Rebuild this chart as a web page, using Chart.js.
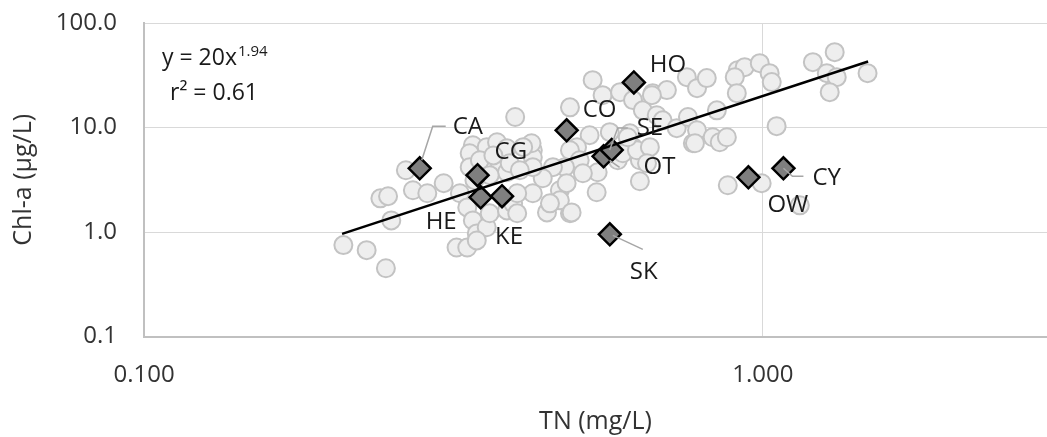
<!DOCTYPE html>
<html>
<head>
<meta charset="utf-8">
<script src="https://cdn.jsdelivr.net/npm/chart.js@4.4.1/dist/chart.umd.min.js"></script>
<style>
  html, body { margin: 0; padding: 0; background: #fff; }
  #wrap { width: 1047px; height: 437px; }
</style>
</head>
<body>
<div id="wrap"><canvas id="chart" width="1047" height="437"></canvas></div>
<script>
const FONT = "'Open Sans', sans-serif";

// all lakes: total nitrogen (mg/L) and chlorophyll-a (µg/L)
const lakeTN = [
  0.210, 0.229, 0.246, 0.241, 0.248, 0.251, 0.265, 0.272, 0.287, 0.305,
  0.340, 0.336, 0.358, 0.372, 0.336, 0.349, 0.376, 0.386, 0.324, 0.333,
  0.340, 0.345, 0.358, 0.362, 0.386, 0.395, 0.320, 0.333, 0.345, 0.398,
  0.401, 0.448, 0.488, 0.539, 0.470, 0.425, 0.401, 0.633, 0.386, 0.425,
  0.425, 0.531, 0.488, 0.551, 0.588, 0.617, 0.640, 0.664, 0.700, 0.754,
  0.783, 0.812, 0.674, 0.689, 0.726, 0.757, 0.771, 0.617, 0.610, 0.566,
  0.525, 0.501, 0.488, 0.506, 0.479, 0.458, 0.441, 0.425, 0.423, 0.410,
  0.482, 0.470, 0.453, 0.491, 0.541, 0.583, 0.594, 0.633, 0.626, 0.657,
  0.390, 0.405, 0.512, 0.605, 0.650, 0.911, 0.935, 0.989, 0.901, 1.026,
  1.034, 0.908, 1.205, 1.307, 1.269, 1.317, 1.283, 1.477, 0.843, 1.053,
  0.783, 0.777, 0.830, 0.852, 0.875, 0.878, 0.996, 1.148, 0.662, 0.367,
  0.362, 0.342
];
const lakeChl = [
  0.75, 0.67, 0.45, 2.10, 2.20, 1.29, 3.90, 2.51, 2.35, 2.93,
  6.77, 5.67, 6.48, 7.23, 4.17, 4.86, 4.17, 3.73, 2.35, 1.72,
  1.29, 0.97, 1.11, 1.51, 1.61, 1.88, 0.71, 0.71, 0.83, 12.6,
  1.51, 1.54, 1.51, 2.40, 2.51, 2.35, 2.35, 3.06, 6.33, 6.06,
  5.19, 28.4, 15.6, 20.4, 21.8, 18.3, 14.6, 21.3, 22.8, 30.3,
  23.8, 29.7, 13.1, 11.7, 9.85, 12.6, 7.07, 6.48, 8.82, 9.02,
  8.44, 6.48, 6.06, 4.86, 4.17, 4.17, 3.27, 4.17, 7.07, 6.48,
  2.93, 2.01, 1.88, 1.54, 3.73, 4.86, 5.67, 4.86, 6.06, 6.48,
  4.55, 3.90, 3.65, 8.07, 4.55, 35.4, 37.8, 41.3, 30.3, 33.1,
  27.2, 21.3, 42.2, 52.6, 33.1, 30.3, 21.8, 33.1, 14.6, 10.3,
  9.42, 7.07, 8.07, 7.23, 8.07, 2.80, 2.93, 1.80, 20.4, 5.40,
  3.50, 3.13
];

// highlighted sites
const siteNames = ['CA', 'CG', 'HE', 'KE', 'CO', 'OT', 'SE', 'HO', 'SK', 'OW', 'CY'];
const siteTN = [0.279, 0.346, 0.350, 0.379, 0.482, 0.553, 0.570, 0.619, 0.566, 0.948, 1.08];
const siteChl = [4.07, 3.50, 2.15, 2.20, 9.40, 5.30, 6.10, 27.0, 0.95, 3.34, 4.07];

// power fit y = 20x^1.94, drawn between these ends
const fitTN = [0.209, 1.48];
const fitChl = [0.96, 42.8];

const xTicks = [0.1, 1];
const yTicks = [0.1, 1, 10, 100];

// label placement relative to each diamond (px), plus leader lines
const labelPos = {
  CA: { dx: 33, dy: -41, leader: [[2, -8], [13, -42], [26, -42]] },
  CG: { dx: 17, dy: -23 },
  HE: { dx: -55, dy: 25 },
  KE: { dx: -7, dy: 41 },
  CO: { dx: 16, dy: -20 },
  OT: { dx: 40, dy: 11, leader: [[6, 4], [16, 11]] },
  SE: { dx: 25, dy: -22, leader: [[-2, 0], [6, -22], [16, -22]] },
  HO: { dx: 16, dy: -17 },
  SK: { dx: 20, dy: 38, leader: [[3, 1], [33, 15]] },
  OW: { dx: 19, dy: 28 },
  CY: { dx: 29, dy: 10, leader: [[0, 0], [9, 8], [20, 8]] }
};

const annotate = {
  id: 'annotate',
  afterDatasetsDraw(chart) {
    const { ctx, scales: { x, y } } = chart;
    ctx.save();
    // leader lines
    ctx.strokeStyle = '#a6a6a6';
    ctx.lineWidth = 1.5;
    siteNames.forEach((name, i) => {
      const p = labelPos[name];
      if (!p.leader) return;
      const cx = x.getPixelForValue(siteTN[i]);
      const cy = y.getPixelForValue(siteChl[i]);
      ctx.beginPath();
      p.leader.forEach(([lx, ly], k) => {
        if (k === 0) ctx.moveTo(cx + lx, cy + ly);
        else ctx.lineTo(cx + lx, cy + ly);
      });
      ctx.stroke();
    });
    // site labels
    ctx.fillStyle = '#1a1a1a';
    ctx.font = '24px ' + FONT;
    ctx.textAlign = 'left';
    ctx.textBaseline = 'middle';
    siteNames.forEach((name, i) => {
      const p = labelPos[name];
      const cx = x.getPixelForValue(siteTN[i]);
      const cy = y.getPixelForValue(siteChl[i]);
      ctx.fillText(name, cx + p.dx, cy + p.dy);
    });
    // fit equation
    const left = chart.chartArea.left;
    ctx.textBaseline = 'alphabetic';
    ctx.font = '23px ' + FONT;
    ctx.fillText('y = 20x', left + 18, 65);
    const w = ctx.measureText('y = 20x').width;
    ctx.font = '15px ' + FONT;
    ctx.fillText('1.94', left + 19 + w, 56);
    ctx.font = '23px ' + FONT;
    ctx.fillText('r\u00B2 = 0.61', left + 26, 100);
    ctx.restore();
  }
};

const tickFont = { family: FONT, size: 24 };
const titleFont = { family: FONT, size: 25 };

new Chart(document.getElementById('chart'), {
  type: 'scatter',
  data: {
    datasets: [
      {
        label: 'fit',
        type: 'line',
        data: fitTN.map((t, i) => ({ x: t, y: fitChl[i] })),
        borderColor: '#000',
        borderWidth: 2.5,
        pointRadius: 0,
        fill: false,
        order: 1
      },
      {
        label: 'sites',
        data: siteTN.map((t, i) => ({ x: t, y: siteChl[i] })),
        pointStyle: 'rectRot',
        pointRadius: 11,
        backgroundColor: '#7f7f7f',
        borderColor: '#000',
        borderWidth: 2.5,
        order: 2
      },
      {
        label: 'lakes',
        data: lakeTN.map((t, i) => ({ x: t, y: lakeChl[i] })),
        pointRadius: 9,
        backgroundColor: '#eeeeee',
        borderColor: '#c3c3c3',
        borderWidth: 2,
        order: 3
      }
    ]
  },
  options: {
    responsive: false,
    animation: false,
    layout: { autoPadding: false, padding: { top: 23, right: 0, bottom: 0, left: 0 } },
    plugins: { legend: { display: false }, tooltip: { enabled: false } },
    scales: {
      x: {
        type: 'logarithmic',
        min: 0.1,
        max: 2.88,
        afterBuildTicks: s => { s.ticks = xTicks.map(v => ({ value: v })); },
        afterFit: s => { s.height = 100.5; s.paddingLeft = 0; s.paddingRight = 0; },
        ticks: {
          callback: v => Number(v).toFixed(3),
          font: tickFont, color: '#333', padding: 24,
          maxRotation: 0, autoSkip: false
        },
        grid: { color: '#d9d9d9', lineWidth: 1, drawTicks: false },
        border: { color: '#c0c0c0', width: 2 },
        title: { display: true, text: 'TN (mg/L)', font: titleFont, color: '#333', padding: { top: 0, bottom: 0 } }
      },
      y: {
        type: 'logarithmic',
        min: 0.1,
        max: 100,
        afterBuildTicks: s => { s.ticks = yTicks.map(v => ({ value: v })); },
        afterFit: s => { s.width = 144; s.paddingTop = 0; s.paddingBottom = 0; },
        ticks: {
          callback: v => Number(v).toFixed(1),
          font: tickFont, color: '#333', padding: 27, autoSkip: false
        },
        grid: { color: '#d9d9d9', lineWidth: 1, drawTicks: false },
        border: { color: '#c0c0c0', width: 2 },
        title: { display: true, text: 'Chl-a (\u00B5g/L)', font: titleFont, color: '#333', padding: { top: 9, bottom: 0 } }
      }
    }
  },
  plugins: [annotate]
});
</script>
</body>
</html>
